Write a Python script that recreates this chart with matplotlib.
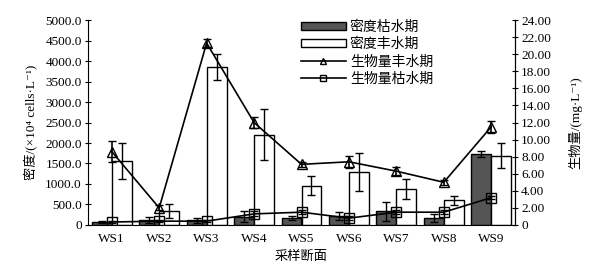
import matplotlib
matplotlib.use("Agg")
import matplotlib.pyplot as plt
from matplotlib.lines import Line2D
from matplotlib.patches import Patch
import numpy as np

plt.rcParams['font.family'] = ['Liberation Serif', 'Noto Sans CJK SC', 'DejaVu Serif']

sites = ["WS1", "WS2", "WS3", "WS4", "WS5", "WS6", "WS7", "WS8", "WS9"]
dens_dry = [70, 120, 120, 200, 180, 210, 330, 170, 1730]
dens_dry_err = [20, 80, 60, 130, 50, 100, 230, 100, 80]
dens_wet = [1560, 340, 3860, 2200, 960, 1290, 875, 600, 1690]
dens_wet_err = [450, 170, 320, 620, 240, 470, 240, 110, 310]
bio_wet = [8.6, 2.0, 21.3, 12.0, 7.1, 7.4, 6.3, 5.0, 11.5]
bio_wet_err = [1.2, 0.3, 0.5, 0.6, 0.3, 0.7, 0.5, 0.3, 0.7]
bio_dry = [0.35, 0.45, 0.45, 1.3, 1.5, 0.8, 1.5, 1.5, 3.2]
bio_dry_err = [0.1, 0.1, 0.1, 0.3, 0.2, 0.2, 0.2, 0.2, 0.2]

fig = plt.figure(figsize=(6.03, 2.69), dpi=100)
ax = fig.add_axes([0.146, 0.1636, 0.708, 0.762])
ax2 = ax.twinx()

x = np.arange(len(sites))
w = 0.42
ek = dict(ecolor='black', elinewidth=1.0, capsize=3, capthick=1.0)
ax.bar(x - w/2, dens_dry, w, color='#555555', edgecolor='black', linewidth=1.0,
       yerr=dens_dry_err, error_kw=ek)
ax.bar(x + w/2, dens_wet, w, color='white', edgecolor='black', linewidth=1.0,
       yerr=dens_wet_err, error_kw=ek)

ax2.errorbar(x, bio_wet, yerr=bio_wet_err, color='black', lw=1.2, marker='^',
             ms=7, mfc='none', mec='black', mew=1.0, capsize=3)
ax2.errorbar(x, bio_dry, yerr=bio_dry_err, color='black', lw=1.2, marker='s',
             ms=7, mfc='none', mec='black', mew=1.0, capsize=3)

ax.set_xlim(-0.5, 8.5)
ax.set_ylim(0, 5000)
ax2.set_ylim(0, 24)
ax.set_yticks(np.arange(0, 5001, 500))
ax.set_yticklabels(['0'] + [f"{v:.1f}" for v in np.arange(500, 5001, 500)])
ax2.set_yticks(np.arange(0, 25, 2))
ax2.set_yticklabels(['0'] + [f"{v:.2f}" for v in np.arange(2, 25, 2)])
ax.set_xticks(x)
ax.set_xticklabels(sites)
ax.tick_params(axis='x', length=0, labelsize=9.5, pad=6)
ax.tick_params(axis='y', direction='inout', length=5, labelsize=9.5, pad=2)
ax2.tick_params(axis='y', direction='inout', length=5, labelsize=9.5, pad=2)

for a in (ax, ax2):
    a.spines['top'].set_visible(False)
ax2.spines['left'].set_visible(False)
ax2.spines['bottom'].set_visible(False)

ax.set_xlabel('采样断面', fontsize=9.5, labelpad=4)
ax.set_ylabel('密度/(×10⁴ cells·L⁻¹)', fontsize=9.5, labelpad=5)
ax2.set_ylabel('生物量/(mg·L⁻¹)', fontsize=9.5, labelpad=12)

handles = [
    Patch(facecolor='#555555', edgecolor='black', linewidth=1.0),
    Patch(facecolor='white', edgecolor='black', linewidth=1.0),
    Line2D([], [], color='black', lw=1.2, marker='^', ms=5, mfc='none', mec='black'),
    Line2D([], [], color='black', lw=1.2, marker='s', ms=5, mfc='none', mec='black'),
]
labels = ['密度枯水期', '密度丰水期', '生物量丰水期', '生物量枯水期']
ax.legend(handles, labels, loc='upper left', bbox_to_anchor=(0.47, 1.06),
          frameon=False, fontsize=10, handlelength=3.2, handleheight=0.5,
          handletextpad=0.3, labelspacing=0.3)

fig.savefig('out.png', dpi=100)
